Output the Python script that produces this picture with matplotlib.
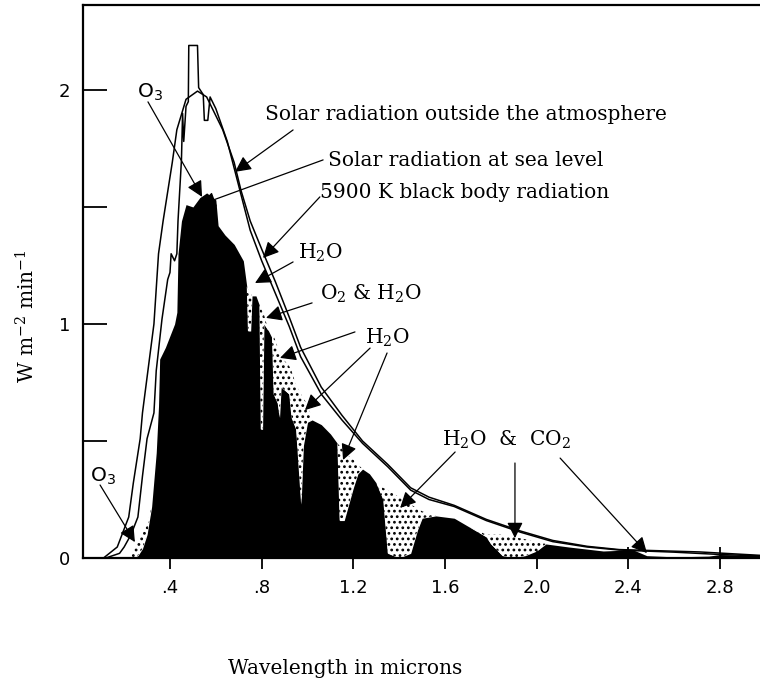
"""Solar spectrum: outside the atmosphere, at sea level and a 5900 K black body"""
import numpy as np
import matplotlib.pyplot as plt

# 5900 K black body curve (microns, W m-2 min-1)
bb_wl = [0.11, 0.17, 0.22, 0.24, 0.27, 0.28, 0.33, 0.35, 0.37, 0.41, 0.43, 0.47,
         0.52, 0.56, 0.63, 0.68, 0.71, 0.75, 0.80, 0.86, 0.92, 0.97, 1.06, 1.15,
         1.24, 1.35, 1.45, 1.53, 1.64, 1.78, 1.93, 2.07, 2.22, 2.36, 2.71, 3.00]
bb_val = [0.000, 0.047, 0.175, 0.320, 0.510, 0.620, 1.000, 1.300, 1.440, 1.690, 1.830, 1.960,
          1.995, 1.970, 1.830, 1.690, 1.570, 1.440, 1.320, 1.180, 1.030, 0.900, 0.730, 0.610,
          0.500, 0.400, 0.300, 0.260, 0.225, 0.165, 0.115, 0.075, 0.050, 0.036, 0.026, 0.010]

# solar radiation outside the atmosphere
top_wl = [0.12, 0.18, 0.20, 0.23, 0.26, 0.28, 0.30, 0.33, 0.34, 0.365, 0.39, 0.40,
          0.405, 0.42, 0.43, 0.435, 0.45, 0.455, 0.46, 0.47, 0.48, 0.482, 0.52, 0.525,
          0.545, 0.55, 0.565, 0.575, 0.60, 0.65, 0.70, 0.75, 0.80, 0.86, 0.92, 0.97,
          1.06, 1.15, 1.24, 1.35, 1.45, 1.53, 1.64, 1.78, 1.93, 2.07, 2.22, 2.36,
          2.60, 2.80, 3.00]
top_val = [0.000, 0.020, 0.047, 0.100, 0.175, 0.350, 0.510, 0.620, 0.800, 1.020, 1.190, 1.220,
           1.300, 1.270, 1.300, 1.440, 1.700, 1.900, 1.780, 1.930, 1.950, 2.190, 2.190, 2.010,
           1.980, 1.870, 1.870, 1.970, 1.920, 1.780, 1.590, 1.400, 1.270, 1.130, 0.990, 0.860,
           0.700, 0.590, 0.490, 0.390, 0.290, 0.250, 0.220, 0.160, 0.110, 0.070, 0.047, 0.034,
           0.025, 0.015, 0.008]

# solar radiation at sea level, and the level without the gas absorption bands
sea_wl = [0.22, 0.24, 0.26, 0.28, 0.30, 0.32, 0.34, 0.35, 0.355, 0.38, 0.40, 0.42,
          0.43, 0.435, 0.45, 0.47, 0.50, 0.53, 0.56, 0.60, 0.61, 0.64, 0.68, 0.72,
          0.735, 0.74, 0.752, 0.758, 0.775, 0.79, 0.796, 0.804, 0.81, 0.83, 0.845, 0.852,
          0.87, 0.878, 0.885, 0.92, 0.93, 0.95, 0.972, 0.982, 1.00, 1.02, 1.06, 1.10,
          1.13, 1.14, 1.16, 1.20, 1.22, 1.24, 1.27, 1.30, 1.33, 1.35, 1.40, 1.45,
          1.48, 1.50, 1.56, 1.64, 1.71, 1.78, 1.80, 1.85, 1.90, 1.95, 2.00, 2.04,
          2.14, 2.29, 2.42, 2.48, 2.60, 2.75, 2.80, 2.90, 3.00]
sea_val = [0.000, 0.000, 0.010, 0.040, 0.100, 0.220, 0.450, 0.650, 0.850, 0.900, 0.950, 1.000,
           1.050, 1.300, 1.440, 1.510, 1.500, 1.540, 1.560, 1.530, 1.420, 1.380, 1.340, 1.270,
           1.160, 0.970, 0.970, 1.120, 1.120, 1.080, 0.550, 0.550, 1.000, 0.970, 0.940, 0.700,
           0.660, 0.600, 0.730, 0.700, 0.600, 0.550, 0.230, 0.480, 0.580, 0.590, 0.570, 0.530,
           0.490, 0.160, 0.160, 0.300, 0.360, 0.380, 0.360, 0.320, 0.250, 0.020, 0.000, 0.020,
           0.120, 0.170, 0.180, 0.170, 0.130, 0.090, 0.060, 0.010, 0.000, 0.010, 0.030, 0.060,
           0.047, 0.030, 0.035, 0.010, 0.005, 0.008, 0.015, 0.012, 0.010]
clear_val = [0.000, 0.030, 0.070, 0.110, 0.140, 0.220, 0.450, 0.650, 0.850, 0.900, 0.950, 1.000,
             1.050, 1.300, 1.440, 1.510, 1.500, 1.540, 1.560, 1.530, 1.420, 1.380, 1.340, 1.270,
             1.160, 1.150, 1.130, 1.120, 1.120, 1.080, 1.070, 1.050, 1.040, 0.970, 0.940, 0.950,
             0.900, 0.880, 0.860, 0.820, 0.800, 0.740, 0.700, 0.680, 0.660, 0.590, 0.570, 0.530,
             0.490, 0.480, 0.450, 0.420, 0.400, 0.380, 0.360, 0.320, 0.300, 0.290, 0.260, 0.230,
             0.210, 0.200, 0.180, 0.170, 0.130, 0.100, 0.100, 0.100, 0.090, 0.080, 0.070, 0.060,
             0.047, 0.030, 0.035, 0.010, 0.005, 0.008, 0.015, 0.012, 0.010]

# labels: text, (wl, value) of the left/centre of the text
labels = [("O$_\\mathregular{3}$", 0.256, 1.99, "sans"),
          ("Solar radiation outside the atmosphere", 0.814, 1.893, "serif"),
          ("Solar radiation at sea level", 1.09, 1.70, "serif"),
          ("5900 K black body radiation", 1.054, 1.56, "serif"),
          ("H$_\\mathregular{2}$O", 0.958, 1.303, "serif"),
          ("O$_\\mathregular{2}$ & H$_\\mathregular{2}$O", 1.054, 1.128, "serif"),
          ("H$_\\mathregular{2}$O", 1.251, 0.94, "serif"),
          ("H$_\\mathregular{2}$O  &  CO$_\\mathregular{2}$", 1.587, 0.504, "serif"),
          ("O$_\\mathregular{3}$", 0.051, 0.35, "sans")]

# arrows: tail (wl, value) -> tip (wl, value)
arrows = [((0.304, 1.949), (0.540, 1.543)),
          ((0.937, 1.829), (0.684, 1.650)),
          ((1.068, 1.701), (0.531, 1.509)),
          ((1.054, 1.543), (0.806, 1.282)),
          ((0.937, 1.265), (0.771, 1.175)),
          ((1.020, 1.090), (0.819, 1.026)),
          ((1.207, 0.966), (0.880, 0.855)),
          ((1.273, 0.897), (0.989, 0.632)),
          ((1.347, 0.876), (1.155, 0.419)),
          ((1.644, 0.453), (1.404, 0.214)),
          ((1.905, 0.406), (1.905, 0.085)),
          ((2.102, 0.427), (2.481, 0.021)),
          ((0.095, 0.312), (0.247, 0.068))]

xticks = [0.4, 0.8, 1.2, 1.6, 2.0, 2.4, 2.8]
xticklabels = [".4", ".8", "1.2", "1.6", "2.0", "2.4", "2.8"]
yticks = [0, 0.5, 1, 1.5, 2]
yticklabels = ["0", "", "1", "", "2"]

plt.rcParams['hatch.linewidth'] = 1.2
fig = plt.figure(figsize=(7.6, 6.82), dpi=100)
ax = fig.add_axes([0.1092, 0.1818, 0.8908, 0.8109])

sea = np.array(sea_val)
clear = np.array(clear_val)
ax.fill_between(sea_wl, 0, sea, color="black", lw=0, zorder=2)
ax.fill_between(sea_wl, sea, clear, where=clear > sea, interpolate=True,
                facecolor="white", edgecolor="black", hatch="...", lw=0, zorder=2)
ax.plot(bb_wl, bb_val, color="black", lw=1.1, zorder=3)
ax.plot(top_wl, top_val, color="black", lw=1.1, zorder=3)

for txt, x, y, fam in labels:
    if fam == "serif":
        ax.text(x, y, txt, family="DejaVu Serif", fontsize=14.5, va="center", ha="left")
    else:
        ax.text(x, y, txt, family="DejaVu Sans", fontsize=14.5, va="center", ha="left")

for tail, tip in arrows:
    ax.annotate("", xy=tip, xytext=tail,
                arrowprops=dict(arrowstyle="-|>", color="black", lw=0.9,
                                mutation_scale=24, shrinkA=0, shrinkB=0))

ax.set_xlim(0.0205, 2.974)
ax.set_ylim(0, 2.363)
ax.set_xticks(xticks)
ax.set_xticklabels(xticklabels)
ax.set_yticks(yticks)
ax.set_yticklabels(yticklabels)
ax.tick_params(axis="y", direction="in", length=17, width=1.3, pad=9, labelsize=13)
ax.tick_params(axis="x", direction="inout", length=16, width=1.3, pad=7, labelsize=13)
ax.spines["right"].set_visible(False)
for s in ["left", "top", "bottom"]:
    ax.spines[s].set_linewidth(1.6)

fig.text(27 / 760, 1 - 316 / 682, "W m$^\\mathregular{-2}$ min$^\\mathregular{-1}$",
         family="DejaVu Serif", fontsize=14.5, rotation=90, va="center", ha="center")
fig.text(345 / 760, 1 - 668 / 682, "Wavelength in microns",
         family="DejaVu Serif", fontsize=14.5, va="center", ha="center")

fig.savefig("out.png", dpi=100)
